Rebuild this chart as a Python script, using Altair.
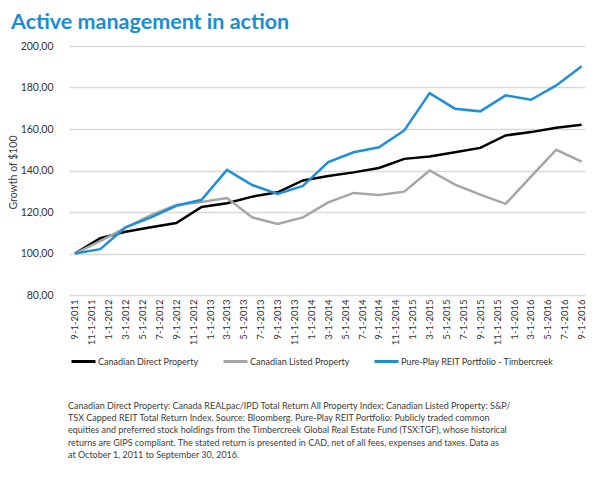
import altair as alt
import pandas as pd

# months since Sep 2011 (quarterly observations)
months = [0, 3, 6, 9, 12, 15, 18, 21, 24, 27, 30, 33, 36, 39, 42, 45, 48, 51, 54, 57, 60]

direct = [100.0, 107.4, 110.5, 112.6, 114.7, 122.4, 124.2, 127.4, 129.5, 135.2, 137.3,
          139.1, 141.2, 145.6, 146.7, 148.8, 150.9, 156.9, 158.5, 160.6, 162.0]
listed = [100.0, 106.0, 112.5, 118.5, 123.4, 124.8, 126.7, 117.4, 114.2, 117.4, 124.6,
          129.2, 128.2, 129.8, 140.0, 133.2, 128.4, 123.9, 137.0, 150.0, 144.3]
pure = [100.0, 102.1, 112.6, 117.4, 123.0, 125.9, 140.3, 133.0, 128.7, 132.6, 144.0,
        148.8, 151.2, 159.3, 177.3, 169.8, 168.5, 176.2, 174.1, 181.0, 190.2]

series_names = ["Canadian Direct Property", "Canadian Listed Property",
                "Pure-Play REIT Portfolio - Timbercreek"]
series_colors = ["#000000", "#a6a6a6", "#1f8fd6"]

tick_months = [0, 2, 4, 6, 8, 10, 12, 14, 16, 18, 20, 22, 24, 26, 28, 30,
               32, 34, 36, 38, 40, 42, 44, 46, 48, 50, 52, 54, 56, 58, 60]
tick_labels = ["9-1-2011", "11-1-2011", "1-1-2012", "3-1-2012", "5-1-2012", "7-1-2012",
               "9-1-2012", "11-1-2012", "1-1-2013", "3-1-2013", "5-1-2013", "7-1-2013",
               "9-1-2013", "11-1-2013", "1-1-2014", "3-1-2014", "5-1-2014", "7-1-2014",
               "9-1-2014", "11-1-2014", "1-1-2015", "3-1-2015", "5-1-2015", "7-1-2015",
               "9-1-2015", "11-1-2015", "1-1-2016", "3-1-2016", "5-1-2016", "7-1-2016",
               "9-1-2016"]
y_ticks = [80, 100, 120, 140, 160, 180, 200]

title_text = "Active management in action"
footnote = [
    "Canadian Direct Property: Canada REALpac/IPD Total Return All Property Index; Canadian Listed Property: S&P/",
    "TSX Capped REIT Total Return Index. Source: Bloomberg. Pure-Play REIT Portfolio: Publicly traded common",
    "equities and preferred stock holdings from the Timbercreek Global Real Estate Fund (TSX:TGF), whose historical",
    "returns are GIPS compliant. The stated return is presented in CAD, net of all fees, expenses and taxes. Data as",
    "at October 1, 2011 to September 30, 2016.",
]

rows = []
for name, vals in zip(series_names, [direct, listed, pure]):
    for m, v in zip(months, vals):
        rows.append({"m": m, "value": v, "series": name})
df = pd.DataFrame(rows)

label_expr = "[" + ",".join("'" + l + "'" for l in tick_labels) + "][round(datum.value / 2)]"

FONT = "Lato"
TXT = "#404040"

lines = alt.Chart(df).mark_line(strokeWidth=2.5).encode(
    x=alt.X("m:Q", scale=alt.Scale(domain=[-0.7, 60.4], nice=False, zero=False),
            axis=alt.Axis(values=tick_months, labelExpr=label_expr, labelAngle=-90,
                          labelAlign="right", labelBaseline="middle", labelPadding=4,
                          ticks=False, domain=False, grid=False, title=None,
                          labelFont=FONT, labelFontSize=9.5, labelColor="#333333",
                          labelOverlap=False)),
    y=alt.Y("value:Q", scale=alt.Scale(domain=[80, 200], nice=False, zero=False),
            axis=alt.Axis(values=y_ticks,
                          labelExpr="replace(format(datum.value, '.2f'), '.', ',')",
                          ticks=False, domain=False, grid=True, gridColor="#d9d9d9",
                          gridWidth=1.5, labelPadding=16, labelFont=FONT,
                          labelFontSize=10.5, labelColor="#333333",
                          title="Growth of $100", titleFont=FONT, titleFontSize=10.5,
                          titleFontWeight="normal", titleColor=TXT, titleAngle=-90,
                          titleX=-56, titleY=126, titleAlign="center",
                          titleBaseline="middle")),
    color=alt.Color("series:N",
                    scale=alt.Scale(domain=series_names, range=series_colors),
                    legend=alt.Legend(title=None, orient="none", legendX=1, legendY=302,
                                      direction="horizontal", symbolType="stroke",
                                      symbolStrokeWidth=3, symbolSize=576,
                                      labelOffset=1, columnPadding=18, gridAlign="none",
                                      labelFont=FONT, labelFontSize=9,
                                      labelColor="#333333")),
    order="m:Q",
)

one_row = alt.Data(values=[{"k": 1}])

title = alt.Chart(one_row).mark_text(
    text=title_text, align="left", baseline="alphabetic",
    font=FONT, fontSize=21.5, fontWeight="bold", color="#1a8dd2",
).encode(x=alt.value(-58), y=alt.value(-17))

note = alt.Chart(one_row).mark_text(
    text=footnote, align="left", baseline="middle", lineHeight=12.2,
    font=FONT, fontSize=9, color=TXT,
).encode(x=alt.value(-1), y=alt.value(360))

chart = alt.layer(lines, title, note).properties(
    width=516, height=249,
    autosize=alt.AutoSizeParams(type="none"),
    padding={"left": 61, "top": 38, "right": 7, "bottom": 174},
).configure_view(stroke=None)

chart.save("out.html", embed_options={"renderer": "svg", "actions": False})
